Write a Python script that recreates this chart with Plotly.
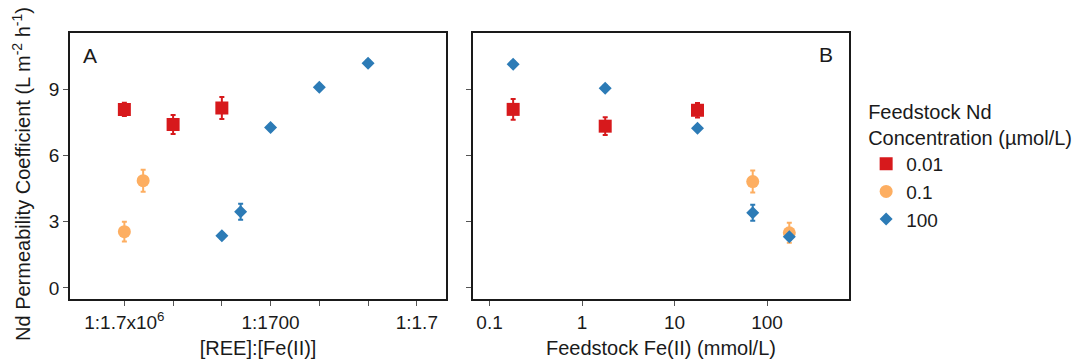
import plotly.graph_objects as go

# Series: feedstock Nd concentration (µmol/L)
conc_labels = ["0.01", "0.1", "100"]
colors = ["#d7191c", "#fdae61", "#2c7bb6"]
symbols = ["square", "circle", "diamond"]
sizes = [13, 13, 10]

# Panel A: Fe(II) per REE in the feed (ratio 1:N), permeability coefficient, error
a_ratio_n = [
    [1.7e6, 1.7e5, 1.7e4],
    [1.7e6, 7.0e5],
    [1.7e4, 7.0e3, 1.7e3, 170, 17],
]
a_perm = [
    [8.09, 7.40, 8.15],
    [2.55, 4.86],
    [2.36, 3.45, 7.27, 9.09, 10.18],
]
a_err = [
    [0.30, 0.43, 0.50],
    [0.45, 0.50],
    [0.12, 0.36, 0.12, 0.12, 0.12],
]

# Panel B: feedstock Fe(II) (mmol/L), permeability coefficient, error
b_fe = [
    [0.18, 1.78, 17.7],
    [70, 174],
    [0.18, 1.78, 17.7, 70, 174],
]
b_perm = [
    [8.09, 7.33, 8.05],
    [4.82, 2.50],
    [10.14, 9.05, 7.24, 3.41, 2.32],
]
b_err = [
    [0.47, 0.40, 0.33],
    [0.50, 0.45],
    [0.12, 0.12, 0.12, 0.36, 0.12],
]

# Tick labels for the [REE]:[Fe(II)] axis (one tick per decade)
a_tick_n = [1.7e6, 1.7e5, 1.7e4, 1.7e3, 170, 17, 1.7]
a_tick_text = ["1:1.7x10<sup>6</sup>", "", "", "1:1700", "", "", "1:1.7"]
b_tick_vals = [0.1, 1, 10, 100]
b_tick_text = ["0.1", "1", "10", "100"]
y_tick_vals = [0, 3, 6, 9]

FONT = "Arial, Liberation Sans, sans-serif"
INK = "#1a1a1a"

fig = go.Figure()

for i, lab in enumerate(conc_labels):
    fig.add_trace(go.Scatter(
        x=[1.0 / n for n in a_ratio_n[i]], y=a_perm[i],
        mode="markers", name=lab, legendgroup=lab,
        marker=dict(symbol=symbols[i], size=sizes[i], color=colors[i]),
        error_y=dict(type="data", array=a_err[i], color=colors[i], thickness=2, width=2.5),
        xaxis="x", yaxis="y",
    ))
for i, lab in enumerate(conc_labels):
    fig.add_trace(go.Scatter(
        x=b_fe[i], y=b_perm[i],
        mode="markers", name=lab, legendgroup=lab, showlegend=False,
        marker=dict(symbol=symbols[i], size=sizes[i], color=colors[i]),
        error_y=dict(type="data", array=b_err[i], color=colors[i], thickness=2, width=2.5),
        xaxis="x2", yaxis="y2",
    ))

axis_common = dict(
    showline=True, mirror=True, linecolor=INK, linewidth=1.6,
    ticks="outside", ticklen=5, tickwidth=1.3, tickcolor="#555555",
    showgrid=False, zeroline=False, automargin=False,
    tickfont=dict(family=FONT, size=19, color=INK),
)

fig.update_layout(
    width=1078, height=362,
    margin=dict(l=70, r=229, t=33, b=63, autoexpand=False),
    paper_bgcolor="white", plot_bgcolor="white",
    font=dict(family=FONT, color=INK, size=19),
    xaxis=dict(
        domain=[0, 0.4829], type="log", range=[-7.346, 0.372],
        tickvals=[1.0 / n for n in a_tick_n], ticktext=a_tick_text,
        title=dict(text="[REE]:[Fe(II)]", font=dict(size=20), standoff=9),
        **axis_common,
    ),
    yaxis=dict(
        range=[-0.5, 11.55], tickvals=y_tick_vals,
        **axis_common,
    ),
    xaxis2=dict(
        domain=[0.5172, 1], type="log", range=[-1.18, 2.886],
        tickvals=b_tick_vals, ticktext=b_tick_text,
        title=dict(text="Feedstock Fe(II) (mmol/L)", font=dict(size=20), standoff=9),
        anchor="y2",
        **axis_common,
    ),
    yaxis2=dict(
        range=[-0.5, 11.55], tickvals=y_tick_vals, showticklabels=False,
        anchor="x2",
        **axis_common,
    ),
    legend=dict(
        x=1.022, xanchor="left", y=0.775, yanchor="top",
        title=dict(text="Feedstock Nd<br>Concentration (µmol/L)",
                   font=dict(family=FONT, size=20, color=INK)),
        font=dict(family=FONT, size=19, color=INK),
        bgcolor="rgba(0,0,0,0)", tracegroupgap=0,
    ),
    annotations=[
        # shared y-axis title, placed left of panel A
        dict(text="Nd Permeability Coefficient (L m<sup>-2</sup> h<sup>-1</sup>)",
             xref="paper", yref="paper", x=-0.0616, y=0.47, textangle=-90,
             xanchor="center", yanchor="middle", showarrow=False,
             font=dict(family=FONT, size=20, color=INK)),
        dict(text="A", xref="x domain", yref="y domain", x=0.028, y=0.915,
             xanchor="left", yanchor="middle", showarrow=False,
             font=dict(family=FONT, size=21, color=INK)),
        dict(text="B", xref="x2 domain", yref="y2 domain", x=0.962, y=0.92,
             xanchor="right", yanchor="middle", showarrow=False,
             font=dict(family=FONT, size=21, color=INK)),
    ],
)

fig.write_html("out.html")
